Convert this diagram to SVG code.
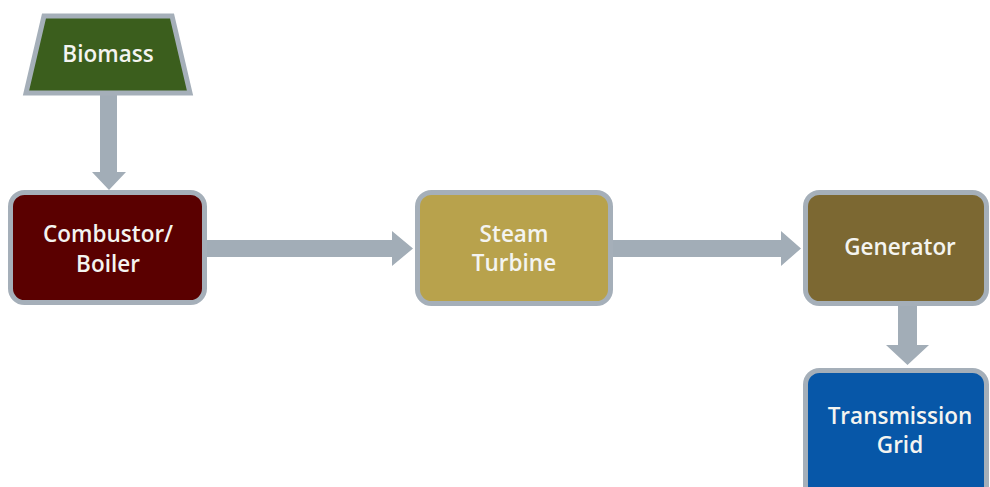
<svg xmlns="http://www.w3.org/2000/svg" width="990" height="487" viewBox="0 0 990 487">
<style>
.box{stroke:#a5afb9;stroke-width:5}
.t{font-family:"Open Sans","Liberation Sans",sans-serif;font-size:22.5px;font-weight:600;fill:#f4f4f0;text-anchor:middle}
.arr{fill:#a2adb7}
</style>
<rect width="990" height="487" fill="#ffffff"/>
<g id="connectors">
<polygon class="arr" points="100,94 117,94 117,172 126,172 109,190 92,172 100,172"/>
<polygon class="arr" points="207,240 392,240 392,231 413,248.5 392,266 392,257 207,257"/>
<polygon class="arr" points="613,240 781,240 781,231 801,248.5 781,266 781,257 613,257"/>
<polygon class="arr" points="898,306 917,306 917,345 929,345 907.5,365 886,345 898,345"/>
</g>
<g id="biomass">
<polygon class="box" points="44,16 172,16 190,93 26,93" fill="#3b5e1d" stroke-width="3"/>
<text class="t" x="108" y="62">Biomass</text>
</g>
<g id="combustor">
<rect class="box" x="10.5" y="192.5" width="194" height="110" rx="14" fill="#5a0000"/>
<text class="t" x="108" y="242">Combustor/</text>
<text class="t" x="108" y="272">Boiler</text>
</g>
<g id="turbine">
<rect class="box" x="417.5" y="192.5" width="193" height="111" rx="14" fill="#b8a24c"/>
<text class="t" x="514" y="242">Steam</text>
<text class="t" x="514" y="271">Turbine</text>
</g>
<g id="generator">
<rect class="box" x="805.5" y="192.5" width="181" height="111" rx="14" fill="#7c6832"/>
<text class="t" x="900" y="255">Generator</text>
</g>
<g id="grid">
<rect class="box" x="805.5" y="370.5" width="181" height="130" rx="14" fill="#0757a8"/>
<text class="t" x="900" y="424">Transmission</text>
<text class="t" x="900" y="453">Grid</text>
</g>
</svg>
